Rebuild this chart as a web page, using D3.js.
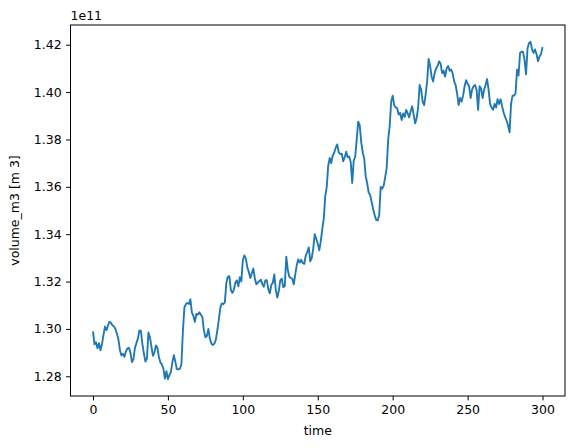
<!DOCTYPE html>
<html>
<head>
<meta charset="utf-8">
<script src="https://cdn.jsdelivr.net/npm/d3@7/dist/d3.min.js"></script>
<style>
  body { margin: 0; background: #fff; }
  svg { display: block; font-family: "DejaVu Sans", sans-serif; }
</style>
</head>
<body>
<svg id="chart" width="576" height="448"></svg>
<script>
// volume_m3 in units of 1e11 m^3, time steps 0..300
const volume = [
1.2990,1.2935,1.2944,1.2918,1.2940,1.2910,1.2935,1.2975,1.3010,1.2995,
1.3015,1.3030,1.3025,1.3015,1.3010,1.3000,1.2980,1.2955,1.2910,1.2888,
1.2895,1.2882,1.2905,1.2918,1.2920,1.2900,1.2860,1.2872,1.2920,1.2940,
1.2960,1.2994,1.2992,1.2935,1.2895,1.2862,1.2875,1.2985,1.2965,1.2925,
1.2886,1.2900,1.2930,1.2920,1.2880,1.2858,1.2850,1.2832,1.2790,1.2822,
1.2788,1.2805,1.2818,1.2860,1.2889,1.2860,1.2830,1.2829,1.2832,1.2850,
1.2990,1.3090,1.3105,1.3110,1.3105,1.3125,1.3070,1.3055,1.3030,1.3063,
1.3060,1.3070,1.3060,1.3050,1.2995,1.2965,1.2970,1.3000,1.2960,1.2938,
1.2932,1.2938,1.2955,1.2995,1.3040,1.3090,1.3108,1.3105,1.3112,1.3195,
1.3220,1.3223,1.3165,1.3152,1.3165,1.3195,1.3205,1.3180,1.3218,1.3200,
1.3290,1.3310,1.3298,1.3260,1.3240,1.3215,1.3235,1.3255,1.3215,1.3188,
1.3195,1.3202,1.3208,1.3190,1.3178,1.3205,1.3206,1.3168,1.3150,1.3185,
1.3195,1.3230,1.3165,1.3132,1.3160,1.3205,1.3212,1.3176,1.3180,1.3305,
1.3250,1.3220,1.3215,1.3212,1.3188,1.3230,1.3270,1.3294,1.3280,1.3292,
1.3278,1.3275,1.3310,1.3325,1.3344,1.3285,1.3300,1.3340,1.3400,1.3380,
1.3360,1.3332,1.3370,1.3420,1.3465,1.3560,1.3600,1.3690,1.3722,1.3700,
1.3732,1.3745,1.3765,1.3779,1.3745,1.3738,1.3740,1.3708,1.3725,1.3748,
1.3725,1.3728,1.3705,1.3616,1.3710,1.3728,1.3800,1.3875,1.3860,1.3790,
1.3745,1.3720,1.3644,1.3615,1.3575,1.3565,1.3535,1.3505,1.3480,1.3460,
1.3458,1.3480,1.3600,1.3592,1.3605,1.3640,1.3680,1.3800,1.3855,1.3960,
1.3985,1.3945,1.3935,1.3932,1.3905,1.3912,1.3882,1.3910,1.3895,1.3925,
1.3910,1.3893,1.3920,1.3940,1.3905,1.3868,1.3890,1.3935,1.4030,1.4010,
1.3960,1.3945,1.3990,1.4045,1.4140,1.4110,1.4065,1.4045,1.4080,1.4100,
1.4110,1.4130,1.4120,1.4080,1.4090,1.4065,1.4100,1.4110,1.4090,1.4095,
1.4080,1.4045,1.4030,1.3995,1.3945,1.3975,1.3960,1.3985,1.4025,1.4050,
1.4035,1.4025,1.3975,1.4010,1.4025,1.4030,1.4010,1.3925,1.4025,1.4015,
1.3975,1.4010,1.4030,1.4055,1.4010,1.3950,1.3935,1.3925,1.3950,1.3935,
1.3970,1.3950,1.3970,1.3940,1.3915,1.3895,1.3880,1.3860,1.3830,1.3950,
1.3985,1.3985,1.3995,1.4095,1.4070,1.4165,1.4170,1.4170,1.4135,1.4075,
1.4185,1.4207,1.4212,1.4180,1.4165,1.4180,1.4160,1.4130,1.4150,1.4160,
1.4190
];
const time = volume.map((_, i) => i);
const xTicks = [0, 50, 100, 150, 200, 250, 300];
const yTicks = [1.28, 1.30, 1.32, 1.34, 1.36, 1.38, 1.40, 1.42];
const xLabel = "time";
const yLabel = "volume_m3 [m 3]";
const offsetText = "1e11";

const svg = d3.select("#chart");
const L = 70.5, R = 565, T = 25, B = 396;

const xMin = d3.min(time), xMax = d3.max(time);
const xPad = (xMax - xMin) * 0.05;
const x = d3.scaleLinear().domain([xMin - xPad, xMax + xPad]).range([L, R]);
const yMin = d3.min(volume), yMax = d3.max(volume);
const yPad = (yMax - yMin) * 0.05;
const y = d3.scaleLinear().domain([yMin - yPad, yMax + yPad]).range([B, T]);

const fontSize = 12.5;

const xAxis = svg.append("g")
  .attr("transform", `translate(0,${B})`)
  .call(d3.axisBottom(x).tickValues(xTicks).tickFormat(d3.format("d")).tickSize(4.4).tickPadding(4.4));
const yAxis = svg.append("g")
  .attr("transform", `translate(${L},0)`)
  .call(d3.axisLeft(y).tickValues(yTicks).tickFormat(d3.format(".2f")).tickSize(4.4).tickPadding(4.4));
[xAxis, yAxis].forEach(g => {
  g.select(".domain").remove();
  g.selectAll(".tick line").attr("stroke", "#000").attr("stroke-width", 1);
  g.selectAll(".tick text").attr("fill", "#000").style("font-size", fontSize + "px")
    .style("font-family", "'DejaVu Sans', sans-serif");
});

svg.append("path")
  .datum(time.map((t, i) => [t, volume[i]]))
  .attr("fill", "none")
  .attr("stroke", "#1f77b4")
  .attr("stroke-width", 1.875)
  .attr("stroke-linejoin", "round")
  .attr("stroke-linecap", "butt")
  .attr("d", d3.line().x(d => x(d[0])).y(d => y(d[1])));

svg.append("rect")
  .attr("x", L).attr("y", T).attr("width", R - L).attr("height", B - T)
  .attr("fill", "none").attr("stroke", "#000").attr("stroke-width", 1);

svg.append("text")
  .attr("x", (L + R) / 2).attr("y", 435)
  .attr("text-anchor", "middle")
  .style("font-size", fontSize + "px")
  .text(xLabel);

svg.append("text")
  .attr("transform", `translate(19,${(T + B) / 2}) rotate(-90)`)
  .attr("text-anchor", "middle")
  .style("font-size", fontSize + "px")
  .text(yLabel);

svg.append("text")
  .attr("x", L).attr("y", 20)
  .attr("text-anchor", "start")
  .style("font-size", fontSize + "px")
  .text(offsetText);
</script>
</body>
</html>
